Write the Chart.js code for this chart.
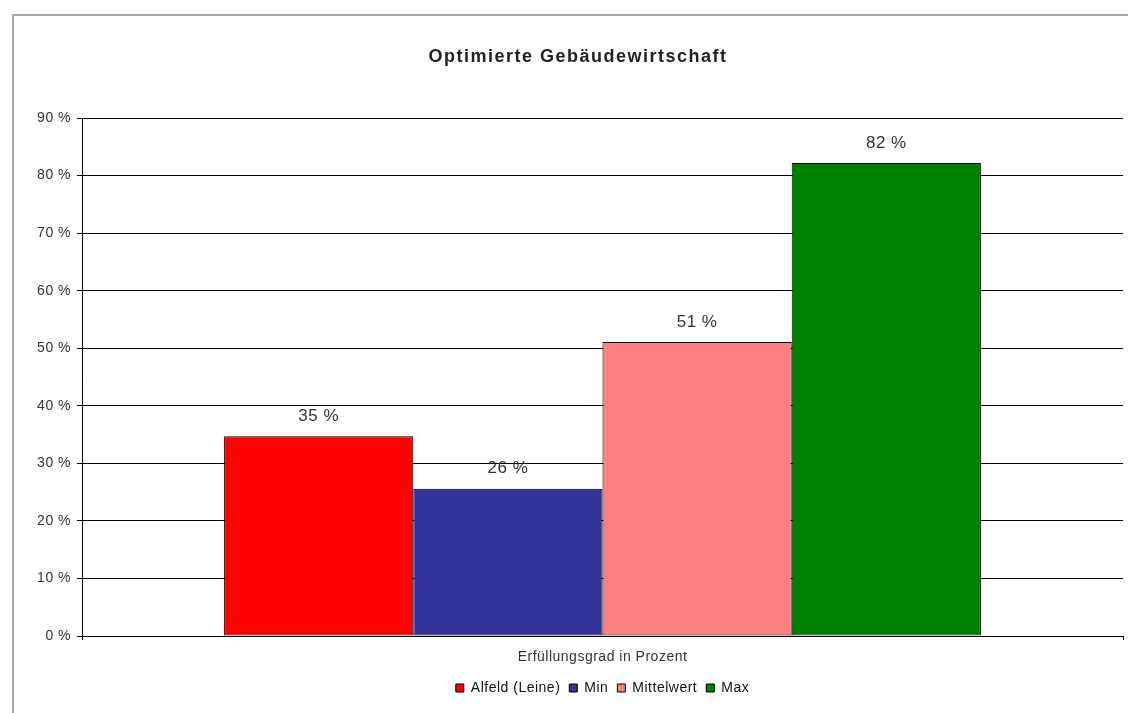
<!DOCTYPE html>
<html>
<head>
<meta charset="utf-8">
<script src="https://cdn.jsdelivr.net/npm/chart.js@4/dist/chart.umd.min.js"></script>
<style>
  body { margin: 0; background: #fff; }
  #frame { position: absolute; left: 12px; top: 14px; width: 1130px; height: 710px;
           border-top: 2px solid #a8a8a8; border-left: 2px solid #a8a8a8; }
  canvas { position: absolute; left: 0; top: 0; }
</style>
</head>
<body>
<div id="frame"></div>
<canvas id="chart" width="1128" height="713"></canvas>
<script>
// values (percent)
const categories = ['Erfüllungsgrad in Prozent'];
const seriesNames = ['Alfeld (Leine)', 'Min', 'Mittelwert', 'Max'];
const seriesValues = [34.7, 25.6, 51.1, 82.2];
const seriesColors = ['#ff0000', '#333399', '#ff8080', '#008000'];
const yTicks = [0, 10, 20, 30, 40, 50, 60, 70, 80, 90];
const chartTitle = 'Optimierte Gebäudewirtschaft';

const FONT = 'Arial, "Liberation Sans", sans-serif';

// the old bitmap font runs a bit wider than Arial
const spacing = {
  id: 'spacing',
  beforeUpdate(chart) { chart.ctx.letterSpacing = '0.5px'; },
  beforeDraw(chart) { chart.ctx.letterSpacing = '0.5px'; }
};

// title drawn over the whole frame
const titlePlugin = {
  id: 'frameTitle',
  afterDraw(chart) {
    const ctx = chart.ctx;
    ctx.save();
    ctx.letterSpacing = '1.5px';
    ctx.font = 'bold 18px ' + FONT;
    ctx.fillStyle = '#222';
    ctx.textAlign = 'center';
    ctx.textBaseline = 'middle';
    ctx.fillText(chartTitle, 578, 57);
    ctx.restore();
  }
};

// value labels above each bar
const valueLabels = {
  id: 'valueLabels',
  afterDatasetsDraw(chart) {
    const ctx = chart.ctx;
    ctx.save();
    ctx.font = '17px ' + FONT;
    ctx.fillStyle = '#333';
    ctx.textAlign = 'center';
    ctx.textBaseline = 'middle';
    chart.data.datasets.forEach(function(ds, i){
      chart.getDatasetMeta(i).data.forEach(function(bar, j){
        ctx.fillText(Math.round(ds.data[j]) + ' %', bar.x, bar.y - 20);
      });
    });
    ctx.restore();
  }
};

const datasets = seriesNames.map(function(name, i){
  return {
    label: name,
    data: [seriesValues[i]],
    backgroundColor: seriesColors[i],
    borderColor: '#000',
    borderWidth: 1,
    borderSkipped: false
  };
});

new Chart(document.getElementById('chart').getContext('2d'), {
  type: 'bar',
  data: { labels: categories, datasets: datasets },
  options: {
    responsive: false,
    animation: false,
    categoryPercentage: 0.727,
    barPercentage: 1.0,
    layout: { padding: { left: 0, right: 5, top: 118, bottom: 8 } },
    plugins: {
      title: { display: false },
      tooltip: { enabled: false },
      legend: {
        position: 'bottom',
        fullSize: false,
        labels: {
          boxWidth: 8, boxHeight: 8, padding: 9,
          color: '#111',
          font: { family: FONT, size: 14 }
        }
      }
    },
    scales: {
      x: {
        offset: true,
        grid: { display: true, drawOnChartArea: false, offset: true, color: '#000', tickLength: 4 },
        border: { display: true, color: '#000', width: 1 },
        ticks: { color: '#333', font: { family: FONT, size: 14 }, padding: 9 },
        afterFit(scale) { scale.height = 36; }
      },
      y: {
        min: 0, max: 90,
        afterBuildTicks(scale) { scale.ticks = yTicks.map(function(v){ return { value: v }; }); },
        grid: { color: '#000', tickLength: 5 },
        border: { display: true, color: '#000', width: 1 },
        ticks: {
          color: '#333', font: { family: FONT, size: 14 }, padding: 6,
          callback: function(v){ return v + ' %'; }
        },
        afterFit(scale) { scale.width = 82; }
      }
    }
  },
  plugins: [spacing, titlePlugin, valueLabels]
});
</script>
</body>
</html>
